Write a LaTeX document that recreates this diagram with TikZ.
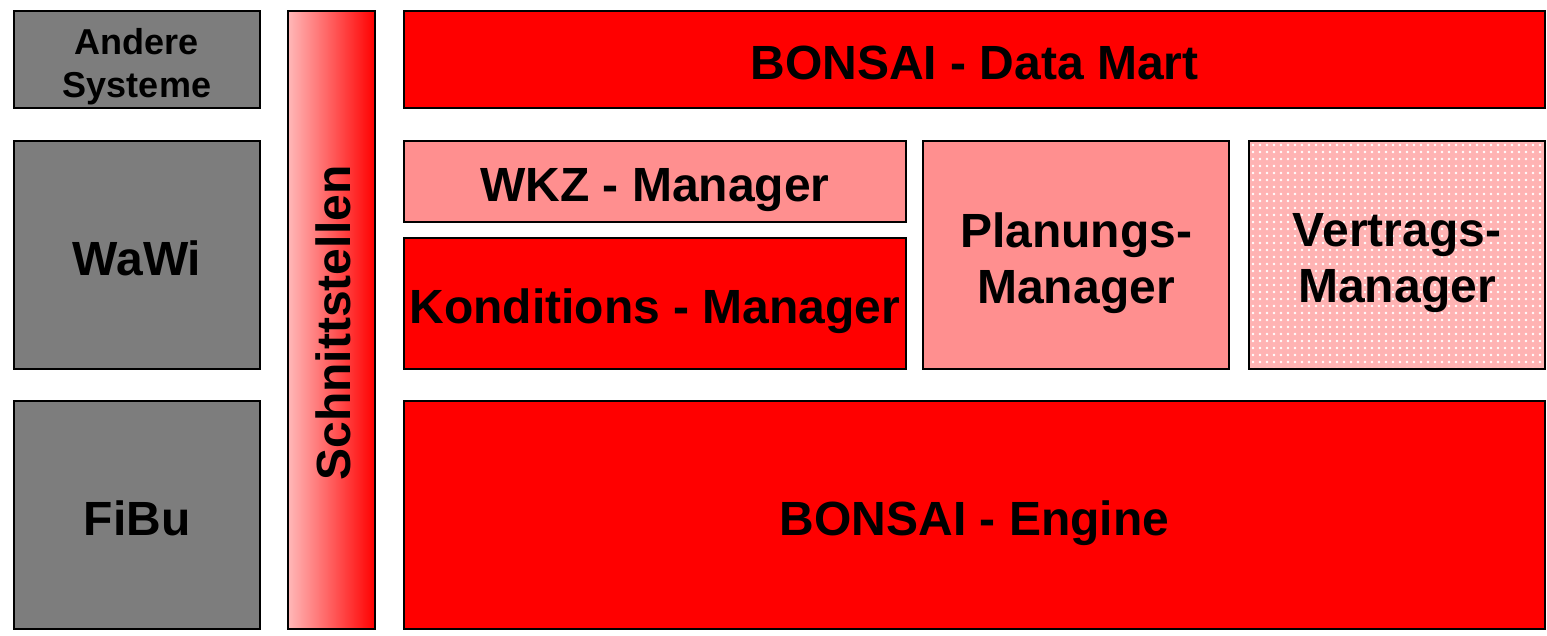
\documentclass[tikz,border=0pt]{standalone}
\usepackage{fontspec}
\setmainfont{Liberation Sans}
\usetikzlibrary{patterns.meta}
\definecolor{boxgray}{HTML}{7D7D7D}
\definecolor{boxred}{HTML}{FF0000}
\definecolor{boxpink}{HTML}{FF8F8F}
\definecolor{boxlight}{HTML}{FFB3B3}
\definecolor{gradleft}{HTML}{FFB8B8}
\begin{document}
\begin{tikzpicture}[x=1pt,y=-1pt,
  box/.style={draw=black, line width=2.5pt, inner sep=0pt, outer sep=0pt},
  graybox/.style={box, fill=boxgray},
  redbox/.style={box, fill=boxred},
  pinkbox/.style={box, fill=boxpink},
  dotbox/.style={box, preaction={fill=boxlight}, pattern={Dots[distance=7pt, radius=1.3pt]}, pattern color=white},
  gradbox/.style={box, left color=gradleft, right color=boxred},
  txt/.style={inner sep=0pt, align=center, text depth=0pt, yshift=-3pt,
    font=\bfseries\fontsize{48}{56}\selectfont},
  smalltxt/.style={txt, font=\bfseries\fontsize{36}{43}\selectfont}]
\useasboundingbox (0,0) rectangle (1547,635);
\node[graybox, minimum width=246pt, minimum height=97pt] (andere) at (137,59.5) {};
\node[graybox, minimum width=246pt, minimum height=228pt] (wawi) at (137,255) {};
\node[graybox, minimum width=246pt, minimum height=228pt] (fibu) at (137,515) {};
\node[gradbox, minimum width=87pt, minimum height=618pt] (schnitt) at (331.5,320) {};
\node[redbox, minimum width=1141pt, minimum height=97pt] (mart) at (974.5,59.5) {};
\node[pinkbox, minimum width=502pt, minimum height=81pt] (wkz) at (655,181.5) {};
\node[redbox, minimum width=502pt, minimum height=131pt] (kond) at (655,303.5) {};
\node[pinkbox, minimum width=306pt, minimum height=228pt] (plan) at (1076,255) {};
\node[dotbox, minimum width=296pt, minimum height=228pt] (vertrag) at (1397,255) {};
\node[redbox, minimum width=1141pt, minimum height=228pt] (engine) at (974.5,515) {};
\node[smalltxt] (andere-t) at (andere.center) {Andere\\Systeme};
\node[txt] (wawi-t) at (wawi.center) {WaWi};
\node[txt] (fibu-t) at (fibu.center) {FiBu};
\node[txt, yshift=0pt, rotate=90] (schnitt-t) at ([xshift=1.5pt]schnitt.center) {Schnittstellen};
\node[txt] (mart-t) at (mart.center) {BONSAI - Data Mart};
\node[txt] (wkz-t) at (wkz.center) {WKZ - Manager};
\node[txt] (kond-t) at (kond.center) {Konditions - Manager};
\node[txt] (plan-t) at (plan.center) {Planungs-\\Manager};
\node[txt] (vertrag-t) at (vertrag.center) {Vertrags-\\Manager};
\node[txt] (engine-t) at (engine.center) {BONSAI - Engine};
\end{tikzpicture}
\end{document}
